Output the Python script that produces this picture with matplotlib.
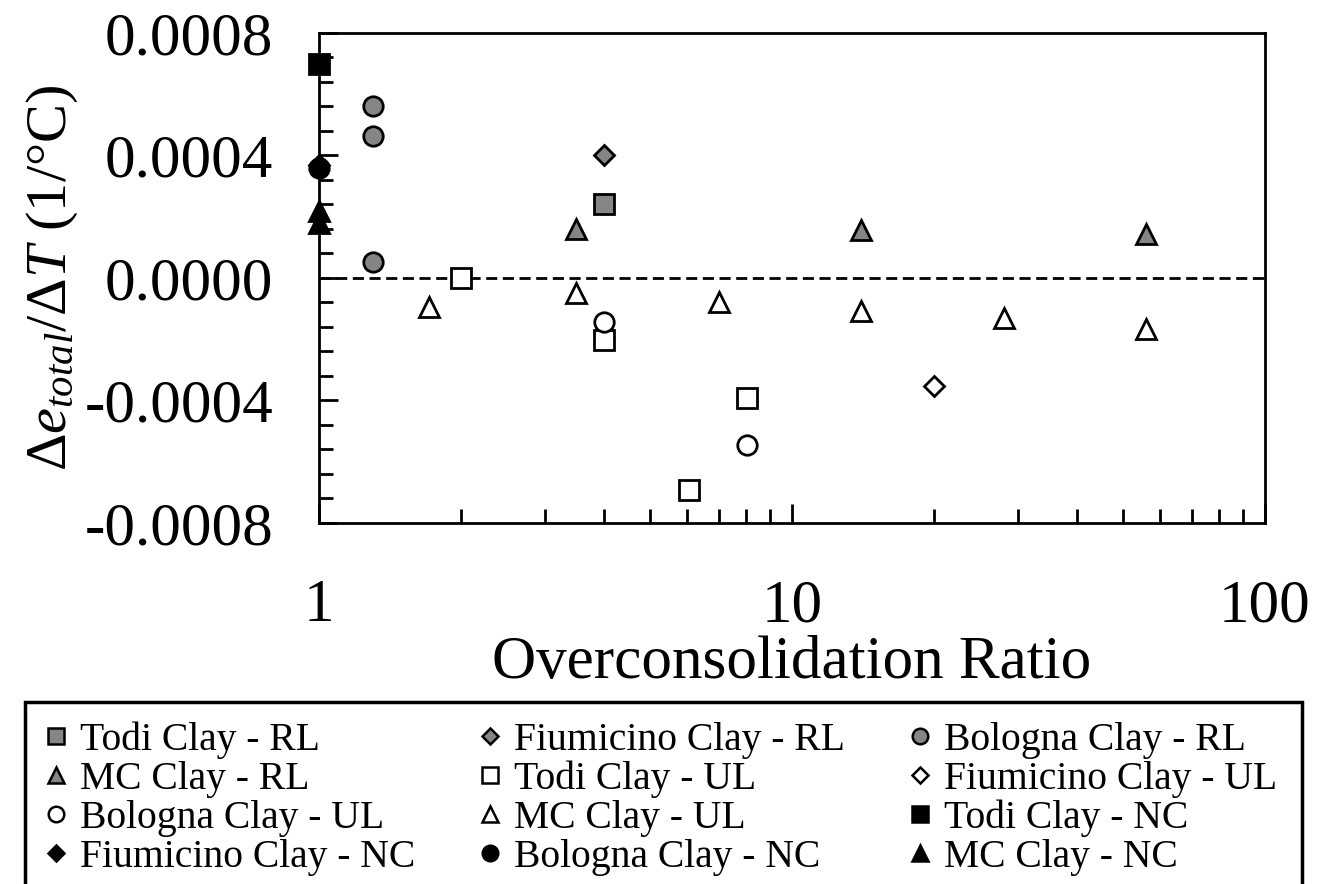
import numpy as np
import matplotlib
matplotlib.use("Agg")
import matplotlib.pyplot as plt
from matplotlib.lines import Line2D
from matplotlib.patches import Rectangle

plt.rcParams['font.family'] = ['Liberation Serif', 'DejaVu Serif']
plt.rcParams['mathtext.fontset'] = 'custom'
plt.rcParams['mathtext.rm'] = 'Liberation Serif'
plt.rcParams['mathtext.it'] = 'Liberation Serif:italic'

# OCR vs. thermal void-ratio change, per clay and loading state
todi_rl_x = [4.0]
todi_rl_y = [0.00024]
fium_rl_x = [4.0]
fium_rl_y = [0.000402]
bolo_rl_x = [1.3, 1.3, 1.3]
bolo_rl_y = [0.00056, 0.000464, 0.000053]
mc_rl_x = [3.5, 14.0, 56.0]
mc_rl_y = [0.00016, 0.000158, 0.000142]

todi_ul_x = [2.0, 4.0, 6.05, 8.05]
todi_ul_y = [0.0, -0.000204, -0.000692, -0.000391]
fium_ul_x = [20.0]
fium_ul_y = [-0.000353]
bolo_ul_x = [4.0, 8.05]
bolo_ul_y = [-0.000144, -0.000544]
mc_ul_x = [1.71, 3.5, 7.0, 14.0, 28.0, 56.0]
mc_ul_y = [-0.000094, -0.00005, -0.000078, -0.000109, -0.000132, -0.000168]

todi_nc_x = [1.0]
todi_nc_y = [0.0007]
fium_nc_x = [1.0]
fium_nc_y = [0.00037]
bolo_nc_x = [1.0]
bolo_nc_y = [0.00036]
mc_nc_x = [1.0, 1.0]
mc_nc_y = [0.00022, 0.00018]

y_ticks = [-0.0008, -0.0004, 0.0, 0.0004, 0.0008]
y_labels = ['-0.0008', '-0.0004', '0.0000', '0.0004', '0.0008']
x_ticks = [1, 10, 100]
x_labels = ['1', '10', '100']

grey = '#858585'
series = [
    # label, x, y, marker, face, size
    ('Todi Clay - RL', todi_rl_x, todi_rl_y, 's', grey, 14),
    ('Fiumicino Clay - RL', fium_rl_x, fium_rl_y, 'D', grey, 10),
    ('Bologna Clay - RL', bolo_rl_x, bolo_rl_y, 'o', grey, 14),
    ('MC Clay - RL', mc_rl_x, mc_rl_y, '^', grey, 14),
    ('Todi Clay - UL', todi_ul_x, todi_ul_y, 's', 'white', 14),
    ('Fiumicino Clay - UL', fium_ul_x, fium_ul_y, 'D', 'white', 10),
    ('Bologna Clay - UL', bolo_ul_x, bolo_ul_y, 'o', 'white', 14),
    ('MC Clay - UL', mc_ul_x, mc_ul_y, '^', 'white', 14),
    ('Todi Clay - NC', todi_nc_x, todi_nc_y, 's', 'black', 14),
    ('Fiumicino Clay - NC', fium_nc_x, fium_nc_y, 'D', 'black', 10),
    ('Bologna Clay - NC', bolo_nc_x, bolo_nc_y, 'o', 'black', 14),
    ('MC Clay - NC', mc_nc_x, mc_nc_y, '^', 'black', 14),
]

fig = plt.figure(figsize=(13.21, 8.84), dpi=100)
ax = fig.add_axes([0.2415, 0.4084, 0.7161, 0.5543])

ax.axhline(0, color='black', lw=2, ls=(0, (4, 2)), zorder=1)

handles = []
for label, xs, ys, mk, fc, ms in series:
    ax.plot(xs, ys, ls='none', marker=mk, ms=ms, mfc=fc, mec='black',
            mew=2, clip_on=False, zorder=3)
    handles.append(Line2D([], [], ls='none', marker=mk, ms=ms * 0.8,
                          mfc=fc, mec='black', mew=1.8, label=label))

ax.set_xscale('log')
ax.set_xlim(1, 100)
ax.set_ylim(-0.0008, 0.0008)
ax.set_xticks(x_ticks)
ax.set_xticklabels(x_labels)
ax.set_yticks(y_ticks)
ax.set_yticklabels(y_labels)
ax.set_yticks(np.arange(-0.0008, 0.00081, 0.00008), minor=True)

ax.tick_params(which='both', direction='in', top=False, right=False,
               labelsize=44, width=2)
ax.tick_params(axis='x', which='major', length=14, pad=40)
ax.tick_params(axis='y', which='major', length=14, pad=33)
ax.tick_params(which='minor', length=10, width=2)
ax.tick_params(axis='y', which='minor', labelleft=False)
for sp in ax.spines.values():
    sp.set_linewidth(2)

ax.set_xlabel('Overconsolidation Ratio', fontsize=44, labelpad=1)
ax.set_ylabel(r'$\Delta e_{total}/\Delta T$ (1/°C)', fontsize=42)
ax.yaxis.set_label_coords(-0.253, 0.5)

# frame of the legend panel below the plot
fig.patches.append(Rectangle((25 / 1321, -0.01), 1277 / 1321, 0.216,
                             transform=fig.transFigure, fill=False,
                             edgecolor='black', lw=2.5))

# legend is filled column by column, so reorder to read row by row
order = [0, 3, 6, 9, 1, 4, 7, 10, 2, 5, 8, 11]
leg = fig.legend([handles[i] for i in order], [handles[i].get_label() for i in order],
                 ncol=3, loc='upper left', bbox_to_anchor=(0.0333, 0.184),
                 fontsize=28.5, frameon=False, handlelength=0.6, handletextpad=0.3,
                 labelspacing=0.05, borderpad=0, borderaxespad=0,
                 columnspacing=1.6)

fig.savefig('out.png', dpi=100)
